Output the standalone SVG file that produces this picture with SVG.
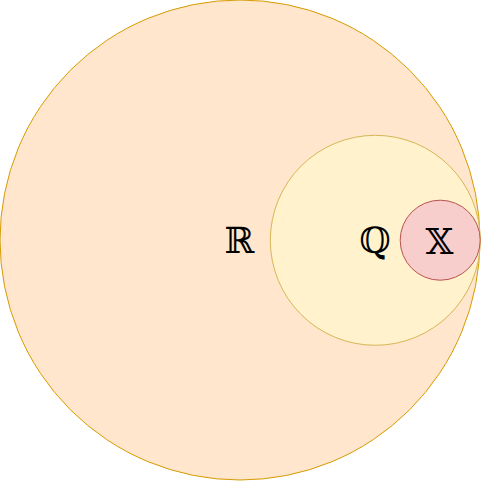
<svg xmlns="http://www.w3.org/2000/svg" width="481" height="482" viewBox="0 0 481 482">
<style>
.lbl{font-family:"DejaVu Serif","Liberation Serif",serif;font-size:36px;text-anchor:middle;fill:#000}
</style>
<rect width="481" height="482" fill="#ffffff"/>
<g id="R">
<circle cx="240" cy="240" r="240" fill="#ffe6cc" stroke="#d79b00" stroke-width="1"/>
<text class="lbl" x="239.5" y="252.5">ℝ</text>
</g>
<g id="Q">
<circle cx="375.3" cy="240.3" r="105" fill="#fff2cc" stroke="#d6b656" stroke-width="1"/>
<text class="lbl" x="375" y="253">ℚ</text>
</g>
<g id="X">
<circle cx="440.2" cy="240.2" r="40" fill="#f8cecc" stroke="#b85450" stroke-width="1"/>
<text class="lbl" x="439.5" y="254">𝕏</text>
</g>
<g id="connectors"/>
</svg>
